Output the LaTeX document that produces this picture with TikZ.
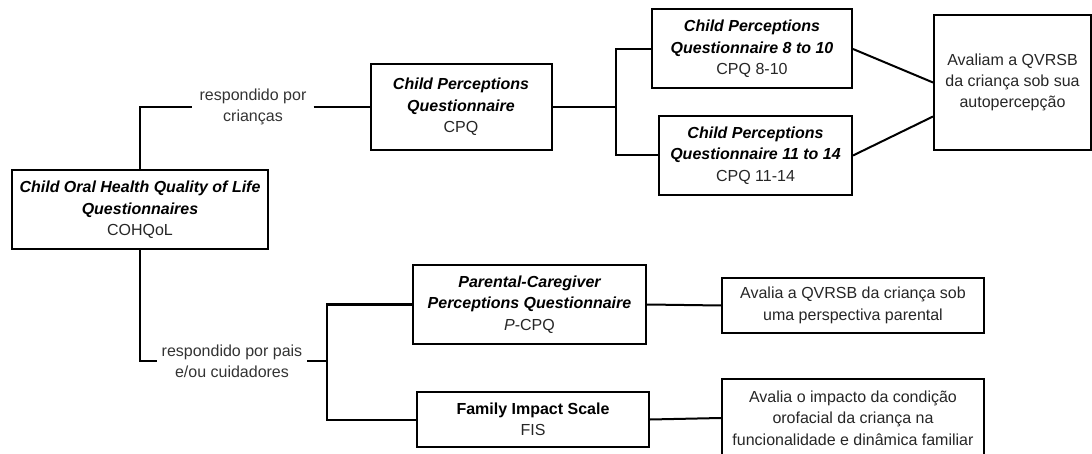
\documentclass[tikz,border=0pt]{standalone}
\usepackage{fontspec}
\setmainfont{Liberation Sans}
\usetikzlibrary{calc}

\begin{document}
\begin{tikzpicture}[
    x=1pt, y=-1pt,
    font=\fontsize{16}{21.3}\selectfont,
    % --- Node styles ---
    box/.style={draw, line width=2pt, align=center, inner sep=0pt, text=black!85},
    tag/.style={align=center, inner sep=5pt, text=black!80},
    % --- Edge styles ---
    link/.style={line width=2pt},
]
\useasboundingbox (0,0) rectangle (1092,454);

% === Root: the COHQoL family ===
\node[box, minimum width=256, minimum height=79] (cohqol) at (140,210)
  {\color{black}\bfseries\itshape Child Oral Health Quality of Life\\
   \color{black}\bfseries\itshape Questionnaires\\ COHQoL};

% === Branch answered by the children ===
\node[tag, inner sep=7pt] (kids) at (253,107) {respondido por\\ crianças};
\node[box, minimum width=181, minimum height=86] (cpq) at (461,107)
  {\color{black}\bfseries\itshape Child Perceptions\\
   \color{black}\bfseries\itshape Questionnaire\\ CPQ};
\node[box, minimum width=200, minimum height=79] (cpq810) at (752,49)
  {\color{black}\bfseries\itshape Child Perceptions\\
   \color{black}\bfseries\itshape Questionnaire 8 to 10\\ CPQ 8-10};
\node[box, minimum width=193, minimum height=79] (cpq1114) at (755.5,155.5)
  {\color{black}\bfseries\itshape Child Perceptions\\
   \color{black}\bfseries\itshape Questionnaire 11 to 14\\ CPQ 11-14};
\node[box, minimum width=157, minimum height=135] (self) at (1012.5,82.5)
  {Avaliam a QVRSB\\ da criança sob sua\\ autopercepção};

% === Branch answered by the parents ===
\node[tag] (parents) at (232,361) {respondido por pais\\ e/ou cuidadores};
\node[box, minimum width=233, minimum height=79] (pcpq) at (529.5,304.5)
  {\color{black}\bfseries\itshape Parental-Caregiver\\
   \color{black}\bfseries\itshape Perceptions Questionnaire\\ \textit{P}-CPQ};
\node[box, minimum width=232, minimum height=55] (fis) at (533,419.5)
  {\color{black}\bfseries Family Impact Scale\\ FIS};
\node[box, minimum width=262, minimum height=55] (view) at (853,305.5)
  {Avalia a QVRSB da criança sob\\ uma perspectiva parental};
\node[box, minimum width=262, minimum height=78] (impact) at (853,418)
  {Avalia o impacto da condição\\ orofacial da criança na\\ funcionalidade e dinâmica familiar};

% --- Junctions ---
\coordinate (jc) at (616,107);
\coordinate (jp) at (327,361);

% --- Connectors ---
\draw[link] (cohqol.north) |- (kids.west);
\draw[link] (kids.east) -- (cpq.west);
\draw[link] (cpq.east) -- (jc);
\draw[link] (cpq810.west) -| (jc) |- (cpq1114.west);
\draw[link] (cpq810.east) -- (self.west);
\draw[link] (cpq1114.east) -- ($(self.west)+(0,34)$);

\draw[link] (cohqol.south) |- (parents.west);
\draw[link] (parents.east) -- (jp);
\draw[link] (pcpq.west) -| (jp) |- (fis.west);
\draw[link] (pcpq.east) -- (view.west);
\draw[link] (fis.east) -- (impact.west);

\end{tikzpicture}
\end{document}
